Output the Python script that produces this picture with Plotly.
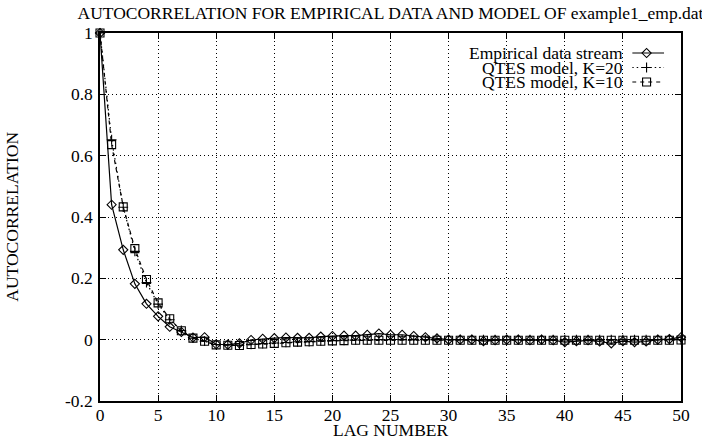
import plotly.graph_objects as go

lags = list(range(0, 51))

empirical = [1.0, 0.440, 0.293, 0.182, 0.117, 0.076, 0.042, 0.025, 0.007, 0.008,
             -0.015, -0.016, -0.012, -0.001, 0.003, 0.005, 0.007, 0.006, 0.006, 0.010,
             0.012, 0.013, 0.013, 0.016, 0.020, 0.016, 0.016, 0.012, 0.008, 0.004,
             0.000, 0.000, 0.000, -0.005, -0.002, 0.000, 0.000, -0.002, 0.000, -0.002,
             -0.008, -0.005, -0.002, -0.006, -0.012, -0.005, -0.008, -0.006, 0.000, 0.002,
             0.008]

qtes_k20 = [1.0, 0.652, 0.432, 0.288, 0.186, 0.116, 0.065, 0.030, 0.005, -0.005,
            -0.016, -0.017, -0.018, -0.015, -0.013, -0.011, -0.009, -0.007, -0.006, -0.004,
            -0.003, -0.002, -0.001, -0.001, 0.000, 0.000, 0.000, 0.000, 0.000, 0.000,
            0.000, 0.000, 0.000, 0.000, 0.000, 0.000, 0.000, 0.000, 0.000, 0.000,
            0.000, 0.000, 0.000, 0.000, 0.000, 0.000, 0.000, 0.000, 0.000, 0.000,
            0.000]

qtes_k10 = [1.0, 0.636, 0.433, 0.297, 0.196, 0.120, 0.068, 0.029, 0.005, -0.005,
            -0.017, -0.018, -0.019, -0.016, -0.014, -0.012, -0.010, -0.008, -0.007, -0.005,
            -0.004, -0.003, -0.002, -0.002, -0.002, -0.002, -0.002, -0.002, -0.002, -0.002,
            -0.002, -0.002, -0.002, -0.002, -0.002, -0.002, -0.002, -0.002, -0.002, -0.002,
            -0.002, -0.002, -0.002, -0.002, -0.002, -0.002, -0.002, -0.002, -0.002, -0.002,
            -0.001]

series_names = ["Empirical data stream", "QTES model, K=20", "QTES model, K=10"]

x_tickvals = [0, 5, 10, 15, 20, 25, 30, 35, 40, 45, 50]
x_ticktext = ["0", "5", "10", "15", "20", "25", "30", "35", "40", "45", "50"]
y_tickvals = [-0.2, 0, 0.2, 0.4, 0.6, 0.8, 1.0]
y_ticktext = ["-0.2", "0", "0.2", "0.4", "0.6", "0.8", "1"]

FONT = "Liberation Serif"
FS = 17.5

styles = [
    dict(dash="solid", symbol="diamond-open", size=7),
    dict(dash="1.5px,3px", symbol="cross-thin-open", size=7),
    dict(dash="4px,4px", symbol="square-open", size=8),
]

fig = go.Figure()
for name, vals, st in zip(series_names, [empirical, qtes_k20, qtes_k10], styles):
    fig.add_trace(go.Scatter(
        x=lags, y=vals, mode="lines+markers", name=name,
        line=dict(color="black", width=1.2, dash=st["dash"]),
        marker=dict(symbol=st["symbol"], size=st["size"], color="black",
                    line=dict(color="black", width=1.1)),
        showlegend=False, cliponaxis=False,
    ))

# custom gnuplot-style key: text right-aligned, sample to the right
row_y = [0.9456, 0.9062, 0.8668]
for name, st, ry in zip(series_names, styles, row_y):
    fig.add_trace(go.Scatter(
        x=[0, 1], y=[ry, ry], xaxis="x2", yaxis="y2", mode="lines",
        line=dict(color="black", width=1.2, dash=st["dash"]),
        showlegend=False, hoverinfo="skip",
    ))
    fig.add_trace(go.Scatter(
        x=[0.45], y=[ry], xaxis="x2", yaxis="y2", mode="markers",
        marker=dict(symbol=st["symbol"], size=st["size"], color="black",
                    line=dict(color="black", width=1.1)),
        showlegend=False, hoverinfo="skip",
    ))
    fig.add_annotation(
        text=name, xref="paper", yref="paper", x=0.904, y=ry,
        xanchor="right", yanchor="middle", showarrow=False,
        font=dict(family=FONT, size=FS, color="black"),
    )

axis_common = dict(
    showline=True, linecolor="black", linewidth=1.5, mirror="ticks",
    ticks="inside", ticklen=6, tickcolor="black", tickwidth=1,
    showgrid=True, gridcolor="black", gridwidth=1, griddash="1px,3px",
    zeroline=False,
    tickfont=dict(family=FONT, size=FS, color="black"),
)

fig.update_layout(
    width=702, height=439,
    margin=dict(l=100, r=19, t=33, b=38),
    paper_bgcolor="white", plot_bgcolor="rgba(0,0,0,0)",
    font=dict(family=FONT, size=FS, color="black"),
    title=dict(text="AUTOCORRELATION FOR EMPIRICAL DATA AND MODEL OF example1_emp.dat",
               x=0.5, xref="paper", y=1 - 13 / 439, yref="container",
               xanchor="center", yanchor="middle",
               font=dict(family=FONT, size=FS, color="black")),
    xaxis=dict(range=[0, 50], tickvals=x_tickvals, ticktext=x_ticktext,
               ticklabelstandoff=-3, **axis_common),
    yaxis=dict(range=[-0.2, 1.0], tickvals=y_tickvals, ticktext=y_ticktext,
               ticklabelstandoff=2, **axis_common),
    xaxis2=dict(domain=[0.916, 0.971], range=[0, 1], visible=False, anchor="y2"),
    yaxis2=dict(domain=[0, 1], range=[0, 1], visible=False, anchor="x2"),
    showlegend=False,
)

fig.add_annotation(text="AUTOCORRELATION", xref="paper", yref="paper",
                   x=-0.152, y=0.5, textangle=-90, showarrow=False,
                   xanchor="center", yanchor="middle",
                   font=dict(family=FONT, size=FS, color="black"))
fig.add_annotation(text="LAG NUMBER", xref="paper", yref="paper",
                   x=0.5, y=-0.08, showarrow=False,
                   xanchor="center", yanchor="middle",
                   font=dict(family=FONT, size=FS, color="black"))

fig.write_html("out.html")
